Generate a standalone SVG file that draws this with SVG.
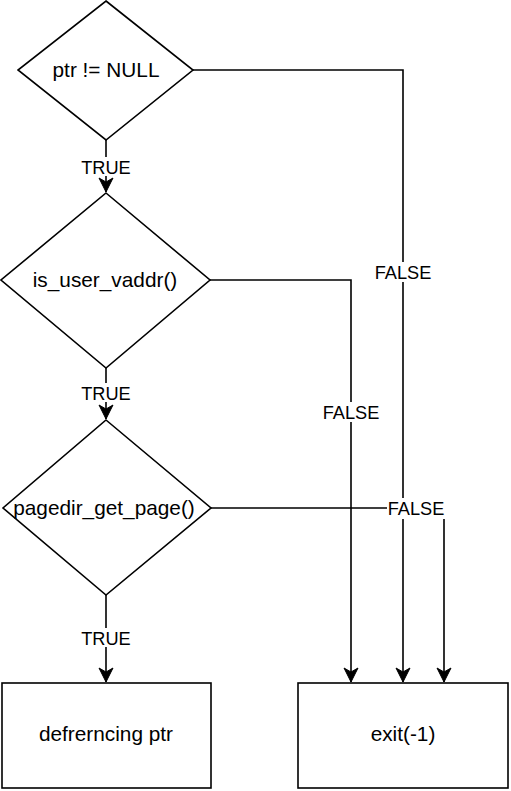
<svg xmlns="http://www.w3.org/2000/svg" width="511" height="791" viewBox="0 0 511 791">
<style>
.shape{fill:#fff;stroke:#000;stroke-width:1.6}
.edge{fill:none;stroke:#000;stroke-width:1.6}
.nt{font-family:"Liberation Sans",Arial,sans-serif;font-size:20.8px;text-anchor:middle;fill:#000}
.lt{font-family:"Liberation Sans",Arial,sans-serif;font-size:18.2px;text-anchor:middle;fill:#000}
.lbg{fill:#fff;stroke:none}
</style>
<defs>
<marker id="arr" markerUnits="userSpaceOnUse" markerWidth="20" markerHeight="20" viewBox="-17 -10 20 20" refX="0" refY="0" orient="auto">
<path d="M0,0 L-14,-7 L-10,0 L-14,7 Z" fill="#000" stroke="#000" stroke-width="1" stroke-linejoin="miter"/>
</marker>
</defs>
<g id="edges">
<path class="edge" d="M106,140 L106,192" marker-end="url(#arr)"/>
<path class="edge" d="M106,368 L106,419" marker-end="url(#arr)"/>
<path class="edge" d="M106,595 L106,682" marker-end="url(#arr)"/>
<path class="edge" d="M193,70 L403,70 L403,682" marker-end="url(#arr)"/>
<path class="edge" d="M210,280 L351,280 L351,682" marker-end="url(#arr)"/>
<path class="edge" d="M211,508 L444,508 L444,682" marker-end="url(#arr)"/>
<rect class="lbg" x="80" y="157" width="52" height="19"/>
<text class="lt" x="106" y="173.5">TRUE</text>
<rect class="lbg" x="80" y="383" width="52" height="19"/>
<text class="lt" x="106" y="399.5">TRUE</text>
<rect class="lbg" x="80" y="628" width="52" height="19"/>
<text class="lt" x="106" y="644.5">TRUE</text>
<rect class="lbg" x="374" y="262" width="58" height="20"/>
<text class="lt" x="403" y="278.5">FALSE</text>
<rect class="lbg" x="322" y="402" width="58" height="20"/>
<text class="lt" x="351" y="418.5">FALSE</text>
<rect class="lbg" x="387" y="498" width="58" height="21"/>
<text class="lt" x="416" y="514.5">FALSE</text>
</g>
<g id="node-ptr-null">
<polygon class="shape" points="106,1 193,70 106,140 18,70"/>
<text class="nt" x="106" y="77">ptr != NULL</text>
</g>
<g id="node-is-user-vaddr">
<polygon class="shape" points="106,193 210,280 106,368 1,280"/>
<text class="nt" x="105" y="287">is_user_vaddr()</text>
</g>
<g id="node-pagedir-get-page">
<polygon class="shape" points="106,420 211,508 106,595 3,508"/>
<text class="nt" x="104" y="515">pagedir_get_page()</text>
</g>
<g id="node-deref">
<rect class="shape" x="2" y="683" width="209" height="105"/>
<text class="nt" x="106" y="741">defrerncing ptr</text>
</g>
<g id="node-exit">
<rect class="shape" x="298" y="683" width="210" height="105"/>
<text class="nt" x="403" y="741">exit(-1)</text>
</g>
</svg>
